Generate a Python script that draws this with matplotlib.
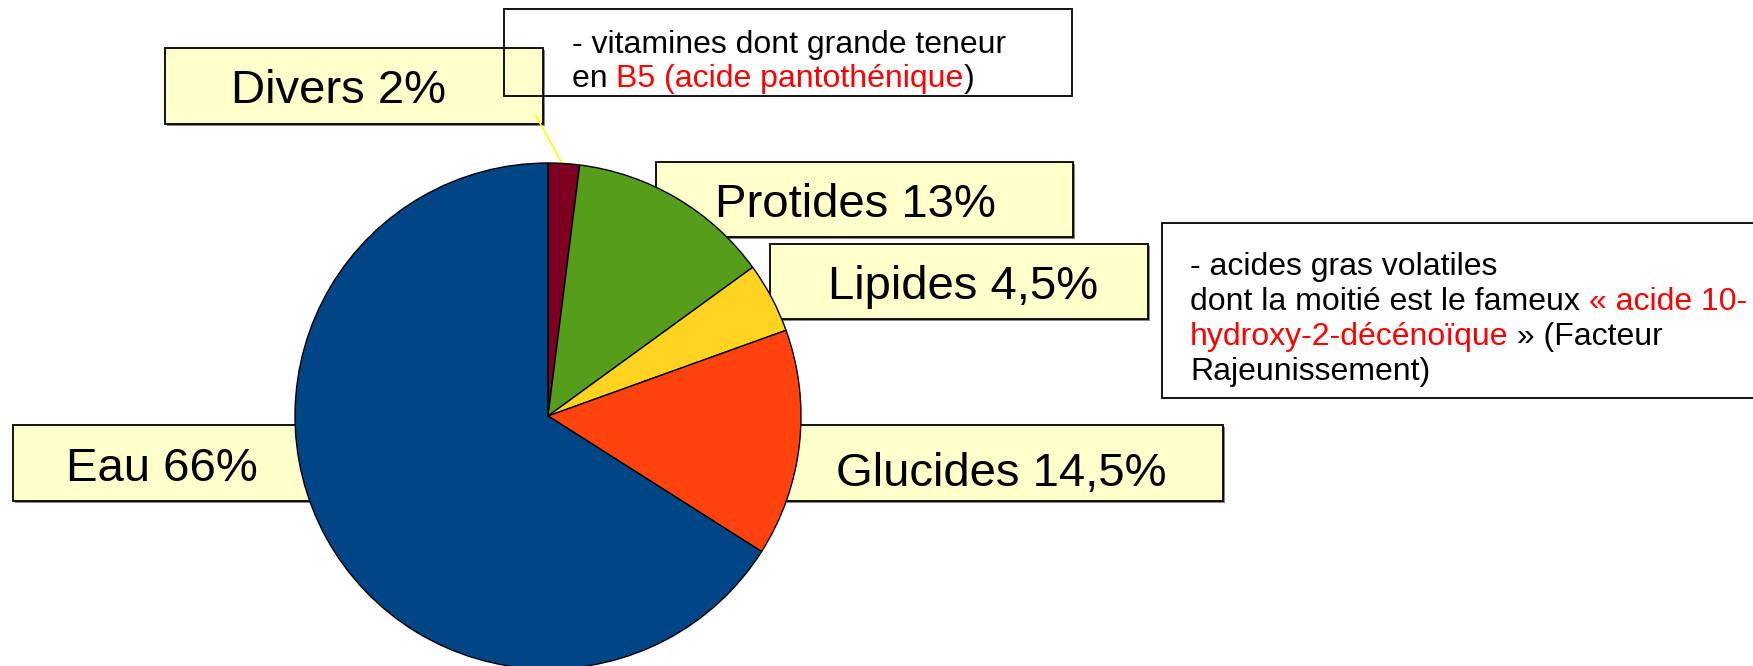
import matplotlib
matplotlib.use("Agg")
import matplotlib.pyplot as plt
from matplotlib.patches import Rectangle

plt.rcParams["font.family"] = ["Liberation Sans", "DejaVu Sans"]

# --- data ---
categories = ["Divers", "Protides", "Lipides", "Glucides", "Eau"]
values = [2, 13, 4.5, 14.5, 66]
value_labels = ["2%", "13%", "4,5%", "14,5%", "66%"]
colors = ["#7e0021", "#579d1c", "#ffd320", "#ff420e", "#004586"]

note_vitamines = [
    [("- vitamines dont grande teneur", "black")],
    [("en ", "black"), ("B5 (acide pantothénique", "red"), (")", "black")],
]
note_lipides = [
    [("- acides gras volatiles", "black")],
    [("dont la moitié est le fameux ", "black"), ("« acide 10-", "red")],
    [("hydroxy-2-décénoïque", "red"), (" » (Facteur", "black")],
    [("Rajeunissement)", "black")],
]

W, H = 1753, 666
fig = plt.figure(figsize=(W / 100, H / 100), dpi=100)
ax = fig.add_axes([0, 0, 1, 1])

# y axis inverted -> pixel coords; start at top and go clockwise on screen
wedges, _ = ax.pie(values, colors=colors, startangle=-90, counterclock=True,
                   center=(548, 416), radius=253,
                   wedgeprops=dict(edgecolor="black", linewidth=1))
for w in wedges:
    w.set_zorder(3)

ax.set_xlim(0, W)
ax.set_ylim(H, 0)
ax.set_aspect("equal")
ax.axis("off")

# label boxes (x0, y0, x1, y1) and text start/baseline
boxes = {
    "Divers": (165, 48, 543, 124),
    "Protides": (656, 162, 1073, 237),
    "Lipides": (770, 244, 1148, 319),
    "Glucides": (560, 425, 1223, 501),
    "Eau": (13, 425, 500, 501),
}
text_pos = {
    "Divers": (231, 103),
    "Protides": (715, 217),
    "Lipides": (828, 299),
    "Glucides": (836, 486),
    "Eau": (66, 481),
}


def box(x0, y0, x1, y1, fill, z):
    ax.add_patch(Rectangle((x0 + 2, y0 + 2), x1 - x0, y1 - y0,
                           facecolor="#888888", edgecolor="none", zorder=z))
    ax.add_patch(Rectangle((x0, y0), x1 - x0, y1 - y0, facecolor=fill,
                           edgecolor="black", linewidth=1.3, zorder=z + 0.1))


for cat, val in zip(categories, value_labels):
    x0, y0, x1, y1 = boxes[cat]
    box(x0, y0, x1, y1, "#ffffcc", 1)
    tx, ty = text_pos[cat]
    ax.text(tx, ty, f"{cat} {val}", fontsize=34, ha="left", va="baseline",
            zorder=4 if cat in ("Protides", "Lipides", "Divers") else 2)

# leader line for Divers
ax.plot([536, 562], [116, 163], color="#ffff00", linewidth=1.2, zorder=2)

# note boxes (no fill)
ax.add_patch(Rectangle((504, 9), 568, 87, facecolor="none", edgecolor="black",
                       linewidth=1.3, zorder=5))
ax.add_patch(Rectangle((1162, 223), 620, 175, facecolor="white",
                       edgecolor="black", linewidth=1.3, zorder=5))


def rich_lines(x, y0, step, lines, size):
    for i, parts in enumerate(lines):
        prev = None
        for s, c in parts:
            if prev is None:
                prev = ax.text(x, y0 + i * step, s, color=c, fontsize=size,
                               ha="left", va="baseline", zorder=6)
            else:
                prev = ax.annotate(s, xy=(1, 0), xycoords=prev, color=c,
                                   fontsize=size, ha="left", va="bottom",
                                   zorder=6)


rich_lines(572, 53, 34, note_vitamines, 23)
rich_lines(1190, 275, 35, note_lipides, 23)

fig.savefig("out.png", dpi=100)
